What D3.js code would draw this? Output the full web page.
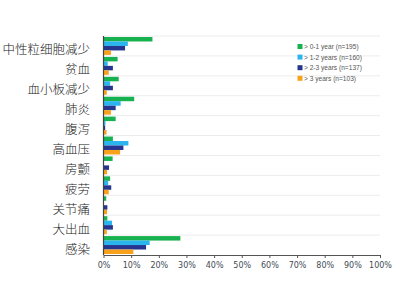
<!DOCTYPE html>
<html>
<head>
<meta charset="utf-8">
<script src="https://cdn.jsdelivr.net/npm/d3@7"></script>
<style>
  html, body { margin: 0; padding: 0; background: #fff; }
  svg { display: block; }
</style>
</head>
<body>
<svg id="chart" width="400" height="300"></svg>
<script>
// Adverse events by treatment duration (% of patients)
const categories = ["中性粒细胞减少", "贫血", "血小板减少", "肺炎", "腹泻", "高血压", "房颤", "疲劳", "关节痛", "大出血", "感染"];
const seriesNames = ["> 0-1 year (n=195)", "> 1-2 years (n=160)", "> 2-3 years (n=137)", "> 3 years (n=103)"];
const year0to1 = [17.7, 5.1, 5.5, 11.1, 4.4, 3.4, 3.3, 2.4, 1.0, 1.4, 27.8];
const year1to2 = [8.8, 1.5, 2.4, 6.2, 0.7, 9.0, 0, 1.7, 0, 3.1, 16.7];
const year2to3 = [7.8, 3.4, 3.4, 4.4, 0.6, 7.2, 2.0, 2.8, 1.4, 3.4, 15.4];
const year3plus = [2.7, 1.9, 1.2, 2.7, 1.1, 6.0, 1.3, 1.9, 1.3, 1.2, 10.8];
const xTicks = [0, 10, 20, 30, 40, 50, 60, 70, 80, 90, 100];
const colors = ["#17b14f", "#2bb5ee", "#253590", "#f8a21c"];

const seriesValues = [year0to1, year1to2, year2to3, year3plus];

const svg = d3.select("#chart");
const plotLeft = 103.5, plotRight = 380, plotTop = 36, plotBottom = 255;

const x = d3.scaleLinear().domain([0, 100]).range([plotLeft, plotRight]);
const y = d3.scaleBand().domain(categories).range([plotTop, plotBottom])
  .paddingInner(0.1).paddingOuter(0.05);
const ySub = d3.scaleBand().domain(d3.range(seriesNames.length)).range([0, y.bandwidth()]);

// light horizontal separators between groups
const step = y.step();
svg.append("g").selectAll("line")
  .data(d3.range(categories.length))
  .join("line")
  .attr("x1", plotLeft).attr("x2", plotRight)
  .attr("y1", i => plotTop + i * step).attr("y2", i => plotTop + i * step)
  .attr("stroke", "#ececec").attr("stroke-width", 1);

// bars
const groups = svg.append("g").selectAll("g")
  .data(categories)
  .join("g")
  .attr("transform", d => `translate(0,${y(d)})`);

groups.selectAll("rect")
  .data((d, ci) => seriesValues.map((vals, si) => ({ si, v: vals[ci] })))
  .join("rect")
  .attr("x", x(0))
  .attr("y", d => ySub(d.si))
  .attr("width", d => x(d.v) - x(0))
  .attr("height", ySub.bandwidth())
  .attr("fill", d => colors[d.si]);

// x axis
const xAxis = d3.axisBottom(x).tickValues(xTicks).tickFormat(d => d + "%").tickSize(3).tickSizeOuter(0);
const gx = svg.append("g").attr("transform", `translate(0,${plotBottom})`).call(xAxis);
gx.select(".domain").attr("stroke", "#555");
gx.selectAll(".tick line").attr("stroke", "#555");
gx.selectAll(".tick text")
  .attr("font-family", "DejaVu Sans, sans-serif")
  .attr("font-size", 8)
  .attr("fill", "#3f4b54")
  .attr("dy", "0.9em");

// y axis line
svg.append("line")
  .attr("x1", plotLeft).attr("x2", plotLeft)
  .attr("y1", plotTop).attr("y2", plotBottom)
  .attr("stroke", "#444").attr("stroke-width", 1.2);

// category labels
svg.append("g").selectAll("text")
  .data(categories)
  .join("text")
  .attr("x", 90)
  .attr("y", d => y(d) + y.bandwidth() / 2 + 3)
  .attr("text-anchor", "end")
  .attr("dominant-baseline", "central")
  .attr("font-family", "Noto Sans CJK SC, sans-serif")
  .attr("font-weight", 300)
  .attr("font-size", 12.5)
  .attr("fill", "#222")
  .text(d => d);

// legend
const legend = svg.append("g").attr("transform", "translate(297.5,44)");
const legendRow = legend.selectAll("g")
  .data(seriesNames)
  .join("g")
  .attr("transform", (d, i) => `translate(0,${i * 10.6})`);
legendRow.append("rect")
  .attr("width", 5).attr("height", 5)
  .attr("fill", (d, i) => colors[i]);
legendRow.append("text")
  .attr("x", 6.5).attr("y", 2.7)
  .attr("dominant-baseline", "central")
  .attr("font-family", "Liberation Sans, sans-serif")
  .attr("font-size", 6.6)
  .attr("fill", "#555")
  .text(d => d);
</script>
</body>
</html>
